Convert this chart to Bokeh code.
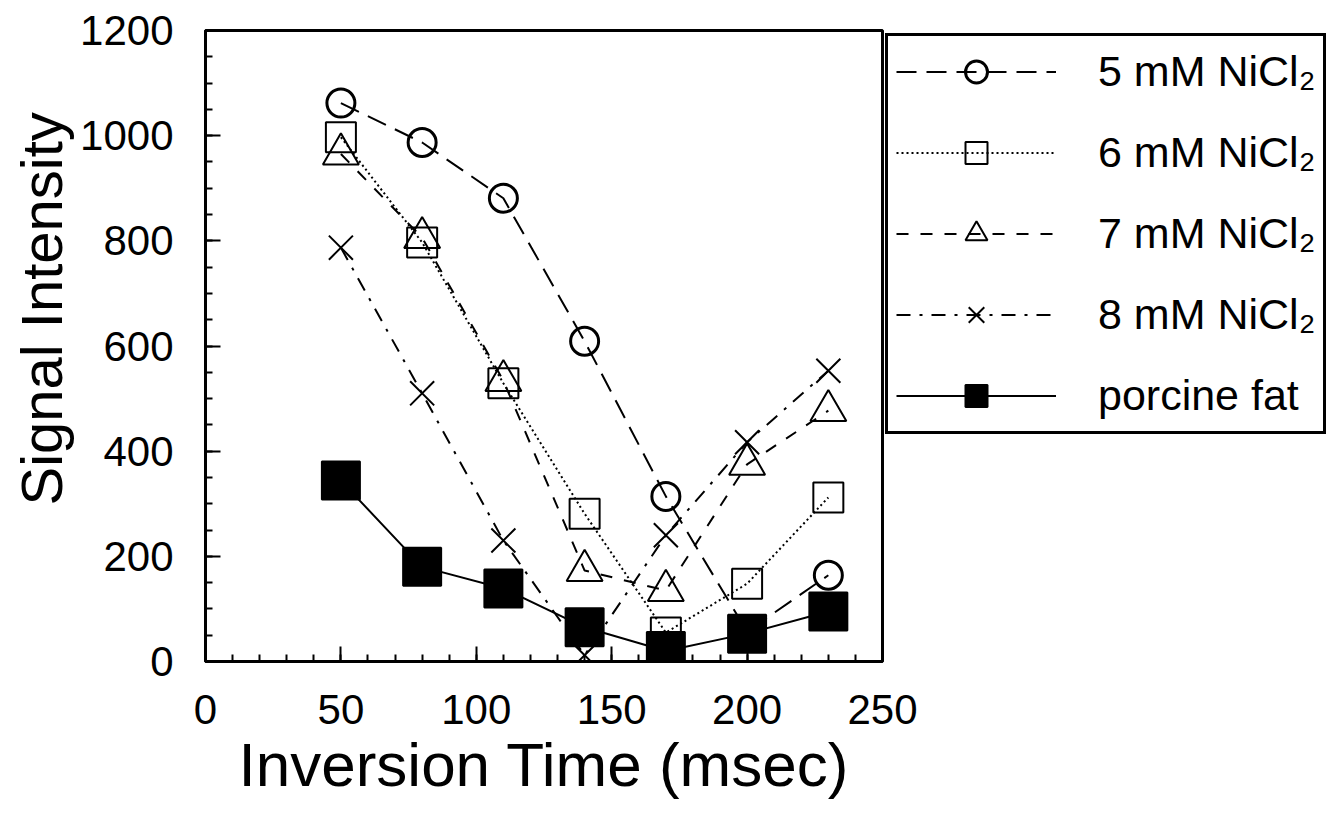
from bokeh.plotting import figure
from bokeh.models import Range1d, SingleIntervalTicker, Legend, LegendItem, Title
from bokeh.embed import file_html
from bokeh.resources import INLINE

# ---- data ----
inversion_time = [50, 80, 110, 140, 170, 200, 230]
nicl2_5mM = [1062, 987, 881, 609, 314, 57, 164]
nicl2_6mM = [997, 797, 529, 281, 55, 148, 312]
nicl2_7mM = [965, 806, 534, 173, 135, 375, 477]
nicl2_8mM = [787, 510, 230, 12, 240, 417, 553]
porcine_fat = [344, 180, 139, 65, 20, 53, 95]

series_labels = ["5 mM NiCl\u2082", "6 mM NiCl\u2082", "7 mM NiCl\u2082", "8 mM NiCl\u2082", "porcine fat"]
x_label = "Inversion Time (msec)"
y_label = "Signal Intensity"

FONT = "Liberation Sans"

p = figure(frame_width=677, frame_height=631,
           x_range=Range1d(0, 250), y_range=Range1d(0, 1200),
           output_backend="svg", toolbar_location=None,
           min_border_left=205, min_border_right=0,
           min_border_top=30, min_border_bottom=150)
p.xgrid.visible = False
p.ygrid.visible = False
p.outline_line_color = "black"
p.outline_line_width = 3
p.outline_line_alpha = 1.0
p.background_fill_color = "white"
p.border_fill_color = "white"

styles = [
    (nicl2_5mM, "20 10", "circle", 28, None, 3),
    (nicl2_6mM, "2 3", "square", 30, None, 2),
    (nicl2_7mM, "12 12", "triangle", 36, None, 2),
    (nicl2_8mM, "14 9 3 9", "x", 34, None, 2),
    (porcine_fat, "solid", "square", 38, "black", 2),
]

items = []
for label, (vals, dash, marker, size, fill, mlw) in zip(series_labels, styles):
    ln = p.line(inversion_time, vals, line_color="black", line_width=2, line_dash=dash)
    sc = p.scatter(inversion_time, vals, marker=marker, size=size,
                   line_color="black", line_width=mlw,
                   fill_color=fill, fill_alpha=1.0 if fill else 0.0)
    items.append(LegendItem(label=label, renderers=[ln, sc]))

for ax in (p.xaxis[0], p.yaxis[0]):
    ax.axis_line_width = 3
    ax.axis_line_color = "black"
    ax.major_tick_in = 15
    ax.major_tick_out = 0
    ax.minor_tick_in = 7
    ax.minor_tick_out = 0
    ax.major_tick_line_width = 2
    ax.minor_tick_line_width = 2
    ax.major_tick_line_color = "black"
    ax.minor_tick_line_color = "black"
    ax.major_label_text_font = FONT
    ax.major_label_text_font_size = "42px"
    ax.major_label_text_color = "black"
    ax.axis_label_text_font = FONT
    ax.axis_label_text_font_style = "normal"
    ax.axis_label_text_color = "black"

p.xaxis.ticker = SingleIntervalTicker(interval=50, num_minor_ticks=5)
p.yaxis.ticker = SingleIntervalTicker(interval=200, num_minor_ticks=4)
p.xaxis.axis_label = x_label
p.xaxis.axis_label_text_font_size = "62px"
p.xaxis.major_label_standoff = 33
p.yaxis.major_label_standoff = 32
p.xaxis.axis_label_standoff = 3

y_title = Title(text=y_label, align="left", offset=156, standoff=8,
                text_font=FONT, text_font_size="58px", text_font_style="normal",
                text_color="black")
p.add_layout(y_title, "left")

legend = Legend(items=items, location="top_left",
                glyph_width=160, glyph_height=55, label_standoff=42,
                spacing=26, padding=8, margin=3,
                border_line_color="black", border_line_width=3, border_line_alpha=1.0,
                background_fill_color="white", background_fill_alpha=1.0,
                label_text_font=FONT, label_text_font_size="43px",
                label_text_color="black")
p.add_layout(legend, "right")

open("out.html", "w").write(file_html(p, INLINE))
